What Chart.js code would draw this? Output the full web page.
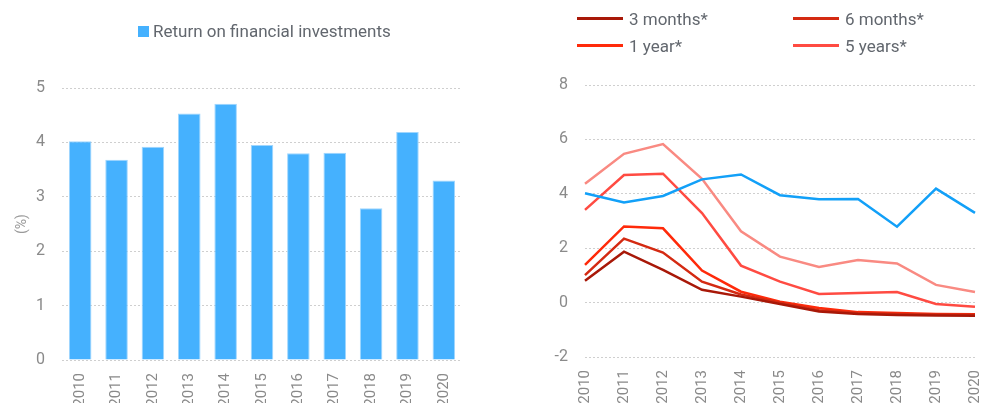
<!DOCTYPE html>
<html>
<head>
<meta charset="utf-8">
<script src="https://cdn.jsdelivr.net/npm/chart.js@4.4.0/dist/chart.umd.min.js"></script>
<style>
    body { margin: 0; background: #fff; font-family: Roboto, sans-serif; }
    #wrap { position: relative; width: 992px; height: 403px; overflow: hidden; }
    .box { position: absolute; top: 0; width: 496px; height: 403px; }
    #leftLegend { position: absolute; top: 21px; left: 138px; display: flex; align-items: center; font-size: 17px; color: #62676e; }
    #leftLegend span.sw { width: 11px; height: 11px; background: #45b1fe; margin-right: 4px; }
    #rightLegend { position: absolute; top: 5px; left: 577px; display: grid; grid-template-columns: 216px 216px; grid-auto-rows: 27px; font-size: 17px; color: #62676e; }
    #rightLegend div { display: flex; align-items: center; }
    #rightLegend span.sw { width: 46px; height: 3px; margin-right: 6px; }
</style>
</head>
<body>
<div id="wrap">
    <div class="box" style="left:0"><canvas id="barChart"></canvas></div>
    <div class="box" style="left:496px"><canvas id="lineChart"></canvas></div>
    <div id="leftLegend"></div>
    <div id="rightLegend"></div>
</div>
<script>
    // Dados
    const years = ['2010', '2011', '2012', '2013', '2014', '2015', '2016', '2017', '2018', '2019', '2020'];
    const financialReturn = [4.02, 3.68, 3.92, 4.53, 4.71, 3.95, 3.80, 3.81, 2.79, 4.19, 3.30];
    const months3 = [0.80, 1.87, 1.20, 0.47, 0.22, -0.05, -0.33, -0.42, -0.46, -0.47, -0.48];
    const months6 = [1.01, 2.35, 1.84, 0.77, 0.30, 0.00, -0.28, -0.38, -0.42, -0.44, -0.45];
    const year1 = [1.39, 2.80, 2.73, 1.18, 0.40, 0.03, -0.20, -0.35, -0.38, -0.42, -0.43];
    const years5 = [3.41, 4.69, 4.74, 3.29, 1.36, 0.77, 0.32, 0.35, 0.39, -0.05, -0.15];
    const years10 = [4.37, 5.47, 5.83, 4.55, 2.62, 1.69, 1.31, 1.57, 1.44, 0.65, 0.39];
    const leftTicks = [0, 1, 2, 3, 4, 5];
    const rightTicks = [-2, 0, 2, 4, 6, 8];

    const tickFont = { family: 'Roboto', size: 16 };
    const xTickFont = { family: 'Roboto', size: 15 };
    const tickColor = '#8a8a8a';
    const gridColor = '#cfcfcf';

    Chart.defaults.font.family = 'Roboto';
    Chart.defaults.animation = false;

    // Gráfico de colunas
    const barData = {
        labels: years,
        datasets: [{
            label: 'Return on financial investments',
            data: financialReturn,
            backgroundColor: '#45b1fe',
            borderColor: '#9fd6fe',
            borderWidth: 1,
            barPercentage: 0.62,
            categoryPercentage: 1
        }]
    };

    const barChart = new Chart(document.getElementById('barChart'), {
        type: 'bar',
        data: barData,
        options: {
            responsive: true,
            maintainAspectRatio: false,
            layout: { padding: { top: 88, right: 34, left: 0, bottom: 0 } },
            scales: {
                x: {
                    grid: { display: false },
                    border: { display: false },
                    ticks: { color: tickColor, font: xTickFont, minRotation: 90, maxRotation: 90, padding: 5 },
                    afterFit: s => { s.height = 43; }
                },
                y: {
                    min: 0,
                    max: 5,
                    afterBuildTicks: s => { s.ticks = leftTicks.map(v => ({ value: v })); },
                    grid: { color: gridColor, drawTicks: false },
                    border: { display: false, dash: [2, 2] },
                    ticks: { color: tickColor, font: tickFont, padding: 17 },
                    title: { display: true, text: '(%)', color: '#9a9a9a', font: { size: 14 }, padding: { top: 14, bottom: 0 } },
                    afterFit: s => { s.width = 62; }
                }
            },
            plugins: {
                legend: { display: false },
                tooltip: { enabled: false }
            }
        }
    });

    // Gráfico de linhas
    const lineColors = ['#12a0f8', '#a81808', '#d42a12', '#ff2a0a', '#ff4b42', '#f98a82'];
    const lineData = {
        labels: years,
        datasets: [
            { label: 'Return on financial investments', data: financialReturn, borderColor: lineColors[0], legend: false },
            { label: '3 months*', data: months3, borderColor: lineColors[1], legend: true },
            { label: '6 months*', data: months6, borderColor: lineColors[2], legend: true },
            { label: '1 year*', data: year1, borderColor: lineColors[3], legend: true },
            { label: '5 years*', data: years5, borderColor: lineColors[4], legend: true },
            { label: '10 years*', data: years10, borderColor: lineColors[5], legend: false }
        ]
    };
    lineData.datasets.forEach(ds => {
        ds.borderWidth = 2.5;
        ds.pointRadius = 0;
        ds.tension = 0;
        ds.fill = false;
    });

    const lineChart = new Chart(document.getElementById('lineChart'), {
        type: 'line',
        data: lineData,
        options: {
            responsive: true,
            maintainAspectRatio: false,
            layout: { padding: { top: 85, right: 17, left: 0, bottom: 0 } },
            scales: {
                x: {
                    offset: false,
                    grid: { display: false },
                    border: { display: false },
                    ticks: { color: tickColor, font: xTickFont, minRotation: 90, maxRotation: 90, padding: 5 },
                    afterFit: s => { s.height = 46; s.paddingRight = 0; s.paddingLeft = 0; }
                },
                y: {
                    min: -2,
                    max: 8,
                    afterBuildTicks: s => { s.ticks = rightTicks.map(v => ({ value: v })); },
                    grid: { color: gridColor, drawTicks: false },
                    border: { display: false, dash: [2, 2] },
                    ticks: { color: tickColor, font: tickFont, padding: 17 },
                    afterFit: s => { s.width = 89; }
                }
            },
            plugins: {
                legend: { display: false },
                tooltip: { enabled: false }
            }
        }
    });

    // Legendas
    const leftLegend = document.getElementById('leftLegend');
    barData.datasets.forEach(ds => {
        leftLegend.innerHTML += '<span class="sw"></span><span>' + ds.label + '</span>';
    });

    const rightLegend = document.getElementById('rightLegend');
    lineData.datasets.filter(ds => ds.legend).forEach(ds => {
        rightLegend.innerHTML += '<div><span class="sw" style="background:' + ds.borderColor + '"></span><span>' + ds.label + '</span></div>';
    });
</script>
</body>
</html>
